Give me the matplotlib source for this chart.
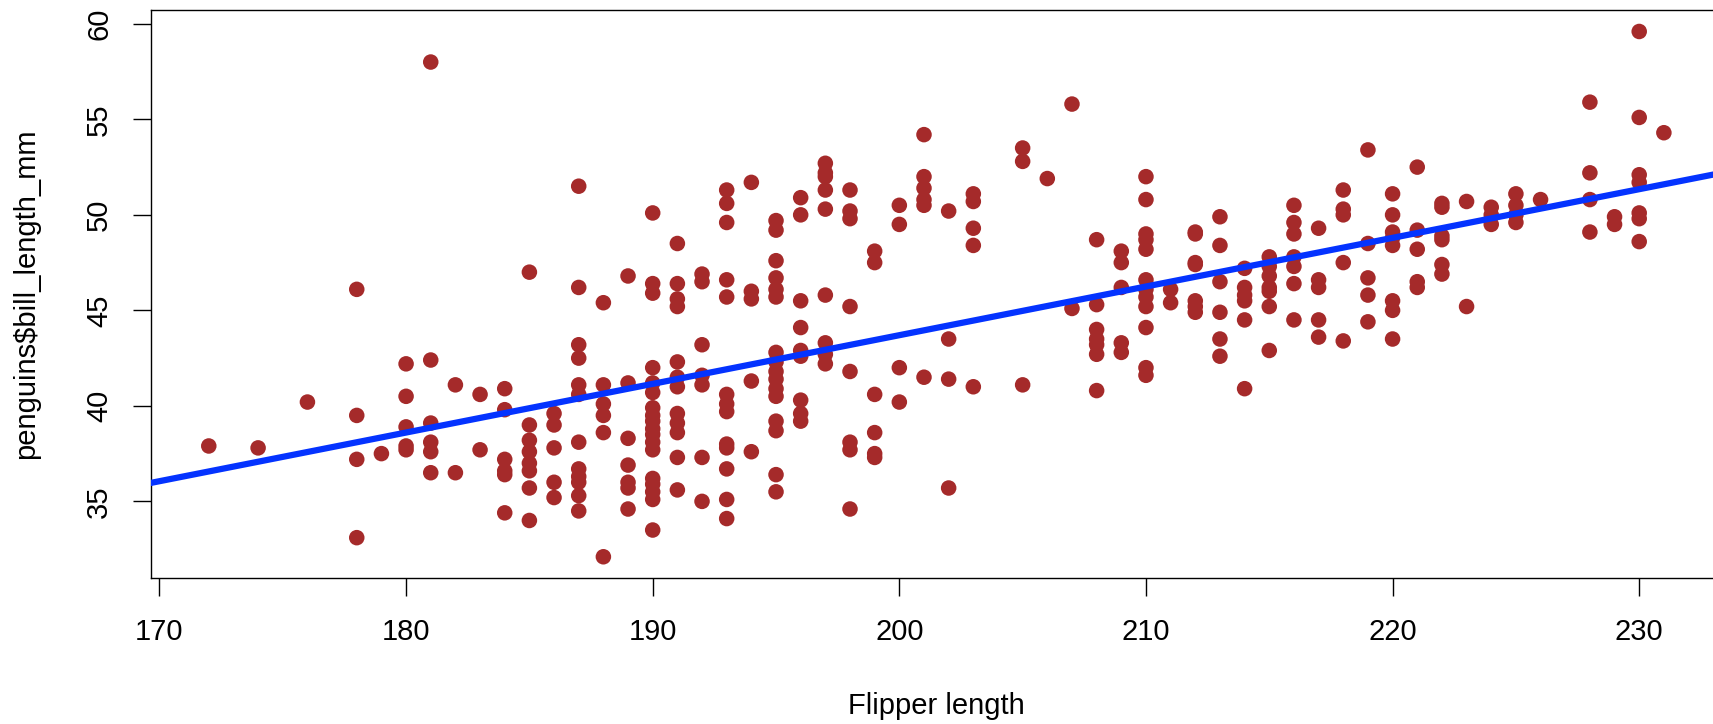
import matplotlib
matplotlib.use("Agg")
import matplotlib.pyplot as plt

plt.rcParams['font.family'] = ['Liberation Sans', 'DejaVu Sans']

flipper = ([172, 174, 176] + [178] * 4 + [179] + [180] * 5 + [181] * 6 + [182] * 2 + [183] * 2
           + [184] * 6 + [185] * 8 + [186] * 5 + [187] * 12 + [188] * 6 + [189] * 7 + [190] * 18
           + [191] * 12 + [192] * 7 + [193] * 13 + [194] * 5 + [195] * 16 + [196] * 9 + [197] * 9
           + [198] * 8 + [199] * 6 + [200] * 4 + [201] * 6 + [202] * 4 + [203] * 5 + [205] * 3
           + [206] + [207] * 2 + [208] * 7 + [209] * 5 + [210] * 12 + [211] * 2 + [212] * 7
           + [213] * 6 + [214] * 6 + [215] * 7 + [216] * 7 + [217] * 5 + [218] * 5 + [219] * 5
           + [220] * 8 + [221] * 5 + [222] * 6 + [223] * 2 + [224] * 3 + [225] * 4 + [226]
           + [228] * 4 + [229] * 2 + [230] * 7 + [231])

bill = [37.9, 37.8, 40.2,
        46.1, 39.5, 37.2, 33.1,
        37.5,
        42.2, 40.5, 38.9, 37.9, 37.7,
        58.0, 42.4, 39.1, 38.1, 37.6, 36.5,
        41.1, 36.5,
        40.6, 37.7,
        40.9, 39.8, 37.2, 36.6, 36.4, 34.4,
        47.0, 39.0, 38.2, 37.6, 37.0, 36.6, 35.7, 34.0,
        39.6, 39.0, 37.8, 36.0, 35.2,
        51.5, 46.2, 43.2, 42.5, 41.1, 40.6, 38.1, 36.7, 36.3, 36.0, 35.3, 34.5,
        45.4, 41.1, 40.1, 39.5, 38.6, 32.1,
        46.8, 41.2, 38.3, 36.9, 36.0, 35.7, 34.6,
        50.1, 46.4, 45.9, 42.0, 41.2, 40.7, 39.9, 39.5, 39.2, 38.8, 38.5, 38.1, 37.7,
        36.2, 35.9, 35.5, 35.1, 33.5,
        48.5, 46.4, 45.6, 45.2, 42.3, 41.5, 41.0, 39.6, 39.1, 38.6, 37.3, 35.6,
        46.9, 46.5, 43.2, 41.6, 41.1, 37.3, 35.0,
        51.3, 50.6, 49.6, 46.6, 45.7, 40.6, 40.1, 39.7, 38.0, 37.8, 36.7, 35.1, 34.1,
        51.7, 46.0, 45.6, 41.3, 37.6,
        49.7, 49.2, 47.6, 46.7, 46.1, 45.7, 42.8, 42.3, 41.8, 41.4, 40.9, 40.5,
        39.2, 38.7, 36.4, 35.5,
        50.9, 50.0, 45.5, 44.1, 42.9, 42.6, 40.3, 39.6, 39.2,
        52.7, 52.2, 52.0, 51.3, 50.3, 45.8, 43.3, 42.7, 42.2,
        51.3, 50.2, 49.8, 45.2, 41.8, 38.1, 37.7, 34.6,
        48.1, 47.5, 40.6, 38.6, 37.5, 37.3,
        50.5, 49.5, 42.0, 40.2,
        54.2, 52.0, 51.4, 50.8, 50.5, 41.5,
        50.2, 43.5, 41.4, 35.7,
        51.1, 50.7, 49.3, 48.4, 41.0,
        53.5, 52.8, 41.1,
        51.9,
        55.8, 45.1,
        48.7, 45.3, 44.0, 43.5, 43.2, 42.7, 40.8,
        48.1, 47.5, 46.2, 43.3, 42.8,
        52.0, 50.8, 49.0, 48.7, 48.2, 46.6, 46.1, 45.7, 45.2, 44.1, 42.0, 41.6,
        46.1, 45.4,
        49.1, 49.0, 47.5, 47.4, 45.5, 45.2, 44.9,
        49.9, 48.4, 46.5, 44.9, 43.5, 42.6,
        47.2, 46.2, 45.8, 45.5, 44.5, 40.9,
        47.8, 47.3, 46.8, 46.2, 46.0, 45.2, 42.9,
        50.5, 49.6, 49.0, 47.8, 47.3, 46.4, 44.5,
        49.3, 46.6, 46.2, 44.5, 43.6,
        51.3, 50.3, 50.0, 47.5, 43.4,
        53.4, 48.5, 46.7, 45.8, 44.4,
        51.1, 50.0, 49.1, 48.8, 48.4, 45.5, 45.0, 43.5,
        52.5, 49.2, 48.2, 46.5, 46.2,
        50.6, 50.4, 48.9, 48.7, 47.4, 46.9,
        50.7, 45.2,
        50.4, 50.0, 49.5,
        51.1, 50.5, 50.0, 49.6,
        50.8,
        55.9, 52.2, 50.8, 49.1,
        49.9, 49.5,
        59.6, 55.1, 52.1, 51.7, 50.1, 49.8, 48.6,
        54.3]

# abline(lm(bill ~ flipper))
fit_intercept = -7.26
fit_slope = 0.2548

x_ticks = [170, 180, 190, 200, 210, 220, 230]
y_ticks = [35, 40, 45, 50, 55, 60]

fig = plt.figure(figsize=(17.13, 7.24), dpi=100)
# plot region runs a little past the right edge of the picture, as in the original
left, bottom, width, height = 0.0879, 0.2017, 0.9174, 0.7841
ax = fig.add_axes([left, bottom, width, height])

ax.scatter(flipper, bill, s=125, color='#a52a2a', edgecolors='none', zorder=2)
ax.axline((0, fit_intercept), slope=fit_slope, color='#0433ff', linewidth=4.5, zorder=3)

ax.set_xlim(169.64, 233.36)
ax.set_ylim(30.99, 60.71)
ax.set_xticks(x_ticks)
ax.set_yticks(y_ticks)
ax.tick_params(axis='both', direction='out', length=13, width=1.0, labelsize=21)
ax.tick_params(axis='x', pad=16)
ax.tick_params(axis='y', pad=14)
for lab in ax.get_yticklabels():
    lab.set_rotation(90)
    lab.set_va('center')
for sp in ax.spines.values():
    sp.set_linewidth(1.0)

# axis titles are centred on the full plot region
fig.text(left + width / 2, 1 - 706 / 724, 'Flipper length', fontsize=21,
         ha='center', va='center')
fig.text(26 / 1713, bottom + height / 2, 'penguins$bill_length_mm', fontsize=21,
         ha='center', va='center', rotation=90)

fig.savefig('out.png', dpi=100)
